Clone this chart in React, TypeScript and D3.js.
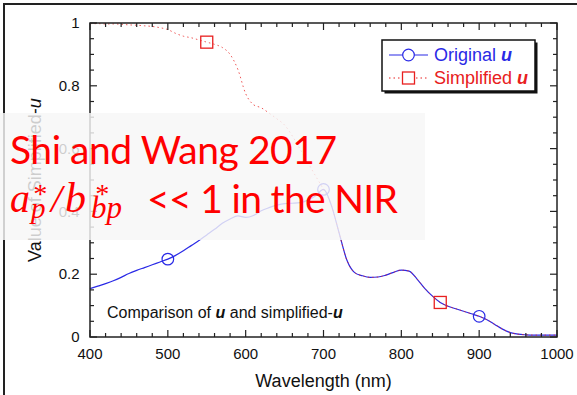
import * as d3 from "d3";

// wavelengths (nm), one sample every 10 nm
const WAVELENGTHS = d3.range(400, 1001, 10);

// Original u (blue, solid)
const ORIGINAL_U = [
  0.154, 0.162, 0.17, 0.179, 0.19, 0.202, 0.212, 0.221, 0.23, 0.239,
  0.248, 0.26, 0.275, 0.291, 0.307, 0.325, 0.343, 0.362, 0.376, 0.386,
  0.381, 0.387, 0.402, 0.412, 0.42, 0.425, 0.426, 0.428, 0.436, 0.45,
  0.47, 0.42, 0.332, 0.245, 0.205, 0.195, 0.19, 0.191, 0.197, 0.206,
  0.213, 0.21, 0.185, 0.155, 0.13, 0.11, 0.098, 0.09, 0.082, 0.074,
  0.066, 0.055, 0.04, 0.025, 0.014, 0.009, 0.007, 0.006, 0.006, 0.006,
  0.006,
];

// Simplified u (red, dotted)
const SIMPLIFIED_U = [
  0.998, 0.998, 0.997, 0.997, 0.996, 0.994, 0.993, 0.991, 0.989, 0.985,
  0.979, 0.967, 0.958, 0.953, 0.946, 0.939, 0.932, 0.922, 0.9, 0.852,
  0.775, 0.74, 0.73, 0.713, 0.695, 0.675, 0.64, 0.598, 0.555, 0.512,
  0.47, 0.42, 0.332, 0.245, 0.205, 0.195, 0.19, 0.191, 0.197, 0.206,
  0.213, 0.21, 0.185, 0.155, 0.13, 0.11, 0.098, 0.09, 0.082, 0.074,
  0.066, 0.055, 0.04, 0.025, 0.014, 0.009, 0.007, 0.006, 0.006, 0.006,
  0.006,
];

const ORIGINAL_MARKERS = [500, 700, 900];
const SIMPLIFIED_MARKERS = [550, 850];

const X_TICKS = [400, 500, 600, 700, 800, 900, 1000];
const Y_TICKS = [0, 0.2, 0.4, 0.6, 0.8, 1];

const W = 577;
const H = 395;
const BLUE = "#2a2ae6";
const RED = "#e82020";
const SANS = "'Liberation Sans', Arial, Helvetica, sans-serif";
const SERIF = "'Liberation Serif', 'DejaVu Serif', serif";
const CAL = "Lato, 'Open Sans', sans-serif";

export default function App() {
  const x = d3.scaleLinear().domain([400, 1000]).range([90, 557]);
  const y = d3.scaleLinear().domain([0, 1]).range([337, 23]);

  const pts = (vals: number[]) => WAVELENGTHS.map((w, i) => [w, vals[i]] as [number, number]);
  const line = d3
    .line<[number, number]>()
    .x((d) => x(d[0]))
    .y((d) => y(d[1]))
    .curve(d3.curveMonotoneX);

  const valueAt = (vals: number[], w: number) => vals[WAVELENGTHS.indexOf(w)];

  const xMinor = d3.range(400, 1001, 20);
  const yMinor = d3.range(0, 1.0001, 0.05);
  const [x0, x1] = x.range();
  const [y0, y1] = y.range();

  return (
    <svg
      width={W}
      height={H}
      style={{ position: "absolute", left: 0, top: 0, background: "#fff" }}
      fontFamily={SANS}
    >
      {/* outer frame of the screenshot */}
      <path d={`M4,${H} V4 H${W}`} fill="none" stroke="#222" strokeWidth={2} />

      {/* curves */}
      <path d={line(pts(ORIGINAL_U)) ?? ""} fill="none" stroke={BLUE} strokeWidth={1.2} />
      <path
        d={line(pts(SIMPLIFIED_U)) ?? ""}
        fill="none"
        stroke={RED}
        strokeWidth={1}
        strokeDasharray="1.5,3"
        opacity={0.75}
      />
      {ORIGINAL_MARKERS.map((w) => (
        <circle key={w} cx={x(w)} cy={y(valueAt(ORIGINAL_U, w))} r={5.8} fill="none" stroke={BLUE} strokeWidth={1.2} />
      ))}
      {SIMPLIFIED_MARKERS.map((w) => (
        <rect
          key={w}
          x={x(w) - 6}
          y={y(valueAt(SIMPLIFIED_U, w)) - 6}
          width={12}
          height={12}
          fill="none"
          stroke={RED}
          strokeWidth={1.3}
        />
      ))}

      {/* axes box and inward ticks */}
      <rect x={x0} y={y1} width={x1 - x0} height={y0 - y1} fill="none" stroke="#222" strokeWidth={1.5} />
      {xMinor.map((t) => {
        const len = t % 100 === 0 ? 7 : 4;
        return (
          <g key={"x" + t} stroke="#222" strokeWidth={1.2}>
            <line x1={x(t)} x2={x(t)} y1={y0} y2={y0 - len} />
            <line x1={x(t)} x2={x(t)} y1={y1} y2={y1 + len} />
          </g>
        );
      })}
      {yMinor.map((t, i) => {
        const len = i % 4 === 0 ? 7 : 4;
        return (
          <g key={"y" + i} stroke="#222" strokeWidth={1.2}>
            <line x1={x0} x2={x0 + len} y1={y(t)} y2={y(t)} />
            <line x1={x1} x2={x1 - len} y1={y(t)} y2={y(t)} />
          </g>
        );
      })}
      {X_TICKS.map((t) => (
        <text key={t} x={x(t)} y={359} fontSize={15} textAnchor="middle" fill="#111">
          {t}
        </text>
      ))}
      {Y_TICKS.map((t) => (
        <text key={t} x={79.5} y={y(t)} dy="0.35em" fontSize={15} textAnchor="end" fill="#111">
          {t}
        </text>
      ))}

      <text x={323.5} y={387} fontSize={18} textAnchor="middle" fill="#111">
        Wavelength (nm)
      </text>
      <text transform="translate(41,180) rotate(-90)" fontSize={18} textAnchor="middle" fill="#111">
        Value of Simplified-<tspan fontStyle="italic">u</tspan>
      </text>

      <text x={107} y={318} fontSize={16} fill="#111">
        Comparison of <tspan fontWeight="bold" fontStyle="italic">u</tspan> and simplified-
        <tspan fontWeight="bold" fontStyle="italic">u</tspan>
      </text>

      {/* legend */}
      <rect x={384.5} y={42.5} width={153} height={51} fill="#111" />
      <rect x={382} y={40} width={153} height={51} fill="#fff" stroke="#111" strokeWidth={1.5} />
      <line x1={389} x2={428} y1={55} y2={55} stroke={BLUE} strokeWidth={1.2} />
      <circle cx={408.5} cy={55} r={5.8} fill="#fff" stroke={BLUE} strokeWidth={1.2} />
      <text x={434} y={55} dy="0.35em" fontSize={18} fill={BLUE}>
        Original <tspan fontWeight="bold" fontStyle="italic">u</tspan>
      </text>
      <line x1={389} x2={428} y1={78} y2={78} stroke={RED} strokeWidth={1} strokeDasharray="1.5,3" />
      <rect x={402.5} y={72} width={12} height={12} fill="#fff" stroke={RED} strokeWidth={1.3} />
      <text x={434} y={78} dy="0.35em" fontSize={18} fill={RED}>
        Simplified <tspan fontWeight="bold" fontStyle="italic">u</tspan>
      </text>

      {/* translucent overlay with annotation */}
      <rect x={0} y={113} width={425} height={127} fill="#f6f6f6" opacity={0.82} />
      <g fill="#ff0000">
        <text x={10} y={164} fontSize={39} fontFamily={CAL} textLength={327}>
          Shi and Wang 2017
        </text>
        <g fontFamily={SERIF} fontStyle="italic">
          <text x={10} y={212} fontSize={40}>a</text>
          <text x={32} y={203} fontSize={28}>*</text>
          <text x={31} y={218} fontSize={29}>p</text>
          <text x={51} y={212} fontSize={40}>/</text>
          <text x={65} y={212} fontSize={42}>b</text>
          <text x={94} y={203} fontSize={28}>*</text>
          <text x={91} y={218} fontSize={31}>bp</text>
        </g>
        <text x={147} y={213} fontSize={39} fontFamily={CAL} textLength={251}>
          {"<< 1 in the NIR"}
        </text>
      </g>
    </svg>
  );
}
